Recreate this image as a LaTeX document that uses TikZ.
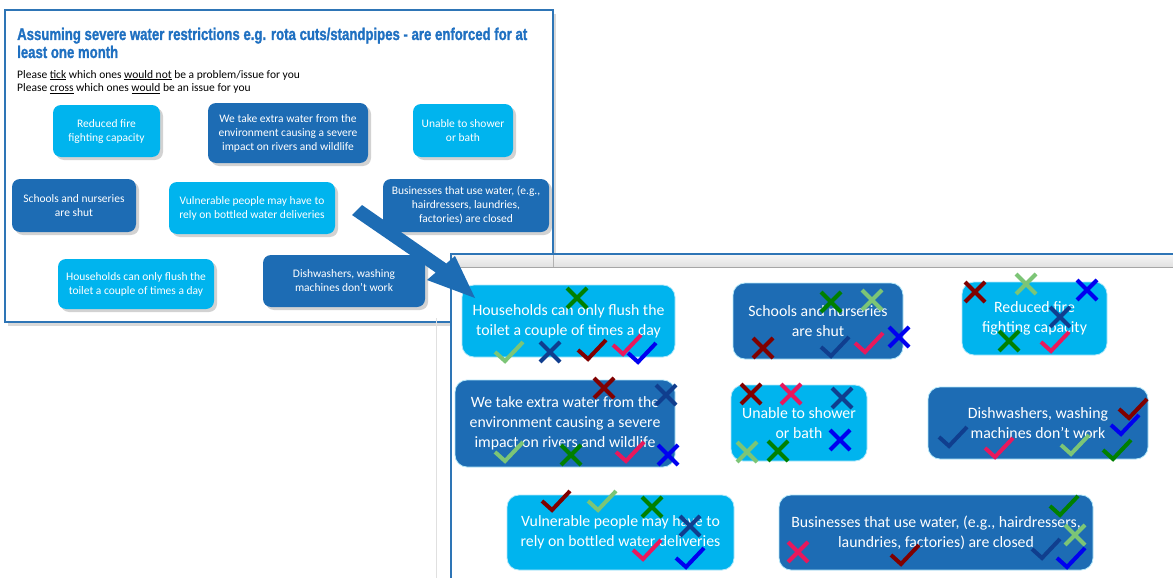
\documentclass[tikz,border=0pt]{standalone}
\usepackage{fontspec}
\setmainfont{Carlito}
\newfontfamily\titlefont[FakeStretch=0.775,FakeBold=1.2]{Liberation Sans}
\usetikzlibrary{shadows}
\definecolor{optcyan}{HTML}{00B4EE}
\definecolor{optblue}{HTML}{1D6CB4}
\definecolor{frameblue}{HTML}{2E75B6}
\definecolor{titleblue}{HTML}{1F70C1}
\definecolor{mkred}{HTML}{800000}
\definecolor{mklime}{HTML}{7CC576}
\definecolor{mkgreen}{HTML}{008000}
\definecolor{mknavy}{HTML}{103E8E}
\definecolor{mkpink}{HTML}{E8185C}
\definecolor{mkblue}{HTML}{0000F0}
\tikzset{
  optsmall/.style={rounded corners=8pt, align=center, text=white, inner sep=0pt, font=\fontsize{11.5}{14}\selectfont, drop shadow={shadow xshift=3pt, shadow yshift=-3pt, opacity=0.35}},
  optbig/.style={rounded corners=12pt, align=center, text=white, inner sep=0pt, font=\fontsize{15.8}{20}\selectfont, draw=white!70!optcyan, line width=0.8pt},
  headline/.style={anchor=base west, inner sep=0pt, text=titleblue, font=\titlefont\bfseries\fontsize{17}{18}\selectfont},
  askline/.style={anchor=base west, inner sep=0pt, font=\fontsize{11.5}{14}\selectfont},
  markline/.style={line width=4pt},
  tickmk/.pic={\draw[markline] (-14,0) -- (-4,9) -- (14,-10);},
  crossmk/.pic={\draw[markline] (-10,-10) -- (10,10) (-10,10) -- (10,-10);}
}

\begin{document}
\begin{tikzpicture}[x=1pt, y=-1pt]
  \useasboundingbox (0,0) rectangle (1173,578);

  % survey slide
  \node[draw=frameblue, line width=1.5pt, fill=white, inner sep=0pt, minimum width=548pt, minimum height=312pt, drop shadow={shadow xshift=3pt, shadow yshift=-4pt, opacity=0.3}] (slide) at (279,166) {};
  \node[headline] (title1) at (17,40) {Assuming severe water restrictions e.g. rota cuts/standpipes - are enforced for at};
  \node[headline] (title2) at (17,58) {least one month};
  \node[askline] (asktick) at (17,78) {Please \underline{tick} which ones \underline{would not} be a problem/issue for you};
  \node[askline] (askcross) at (17,92) {Please \underline{cross} which ones \underline{would} be an issue for you};

  \node[optsmall, fill=optcyan, minimum width=107pt, minimum height=52pt] (lfire) at (106.5,131) {Reduced fire\\fighting capacity};
  \node[optsmall, fill=optblue, minimum width=160pt, minimum height=60pt] (lextra) at (288,133) {We take extra water from the\\environment causing a severe\\impact on rivers and wildlife};
  \node[optsmall, fill=optcyan, minimum width=100pt, minimum height=53pt] (lshower) at (463,130.5) {Unable to shower\\or bath};
  \node[optsmall, fill=optblue, minimum width=124pt, minimum height=53pt] (lschool) at (74,205.5) {Schools and nurseries\\are shut};
  \node[optsmall, fill=optcyan, minimum width=166pt, minimum height=52pt] (lvulner) at (252,208) {Vulnerable people may have to\\rely on bottled water deliveries};
  \node[optsmall, fill=optblue, minimum width=166pt, minimum height=53pt] (lbusin) at (466,205.5) {Businesses that use water, (e.g.,\\hairdressers, laundries,\\factories) are closed};
  \node[optsmall, fill=optcyan, minimum width=156pt, minimum height=50pt] (lflush) at (136,284) {Households can only flush the\\toilet a couple of times a day};
  \node[optsmall, fill=optblue, minimum width=162pt, minimum height=52pt] (ldish) at (344,281) {Dishwashers, washing\\machines don't work};

  % results window
  \draw[black!12] (436,318) -- (436,578);
  \fill[white] (451,254) rectangle (1173,578);
  \shade[top color=black!4, bottom color=black!12] (452,255) rectangle (1173,267);
  \draw[black!30] (553,255) -- (553,267);
  \draw[black!35] (452,267) -- (1173,267);
  \draw[frameblue, line width=2pt] (1173,254) -- (451,254) -- (451,578);

  \node[optbig, fill=optcyan, minimum width=213pt, minimum height=72pt] (rflush) at (568.5,321) {Households can only flush the\\toilet a couple of times a day};
  \node[optbig, fill=optblue, minimum width=170pt, minimum height=76pt] (rschool) at (818,321) {Schools and nurseries\\are shut};
  \node[optbig, fill=optcyan, minimum width=145pt, minimum height=73pt] (rfire) at (1034.5,318.5) {Reduced fire\\fighting capacity};
  \node[optbig, fill=optblue, minimum width=220pt, minimum height=87pt] (rextra) at (565,423.5) {We take extra water from the\\environment causing a severe\\impact on rivers and wildlife};
  \node[optbig, fill=optcyan, minimum width=136pt, minimum height=76pt] (rshower) at (799,423) {Unable to shower\\or bath};
  \node[optbig, fill=optblue, minimum width=220pt, minimum height=72pt] (rdish) at (1038,423) {Dishwashers, washing\\machines don't work};
  \node[optbig, fill=optcyan, minimum width=227pt, minimum height=75pt] (rvulner) at (620.5,532.5) {Vulnerable people may have to\\rely on bottled water deliveries};
  \node[optbig, fill=optblue, minimum width=314pt, minimum height=75pt] (rbusin) at (936,532.5) {Businesses that use water, (e.g., hairdressers,\\laundries, factories) are closed};

  % ticks and crosses
  \pic[mkgreen] at (577,298) {crossmk};
  \pic[mklime] at (509,352) {tickmk};
  \pic[mknavy] at (550,352) {crossmk};
  \pic[mkred] at (592,350) {tickmk};
  \pic[mkpink] at (627,345) {tickmk};
  \pic[mkblue] at (642,353) {tickmk};

  \pic[mkred] at (604,388) {crossmk};
  \pic[mknavy] at (666,395) {crossmk};
  \pic[mklime] at (509,452) {tickmk};
  \pic[mkgreen] at (571,455) {crossmk};
  \pic[mkpink] at (630,452) {tickmk};
  \pic[mkblue] at (668,455) {crossmk};

  \pic[mkgreen] at (831,302) {crossmk};
  \pic[mklime] at (872,300) {crossmk};
  \pic[mkred] at (763,348) {crossmk};
  \pic[mknavy] at (835,347) {tickmk};
  \pic[mkpink] at (869,343) {tickmk};
  \pic[mkblue] at (899,337) {crossmk};

  \pic[mkred] at (975,292) {crossmk};
  \pic[mklime] at (1026,284) {crossmk};
  \pic[mkblue] at (1087,290) {crossmk};
  \pic[mknavy] at (1060,317) {crossmk};
  \pic[mkgreen] at (1009,341) {crossmk};
  \pic[mkpink] at (1055,342) {tickmk};

  \pic[mkred] at (751,394) {crossmk};
  \pic[mkpink] at (791,394) {crossmk};
  \pic[mknavy] at (842,398) {crossmk};
  \pic[mkblue] at (840,440) {crossmk};
  \pic[mklime] at (747,452) {crossmk};
  \pic[mkgreen] at (778,451) {crossmk};

  \pic[mkred] at (1133,409) {tickmk};
  \pic[mkblue] at (1125,425) {tickmk};
  \pic[mknavy] at (953,437) {tickmk};
  \pic[mkpink] at (999,448) {tickmk};
  \pic[mklime] at (1075,445) {tickmk};
  \pic[mkgreen] at (1117,450) {tickmk};

  \pic[mkred] at (556,501) {tickmk};
  \pic[mklime] at (602,501) {tickmk};
  \pic[mkgreen] at (652,507) {crossmk};
  \pic[mknavy] at (690,526) {crossmk};
  \pic[mkpink] at (647,550) {tickmk};
  \pic[mkblue] at (690,558) {tickmk};

  \pic[mkgreen] at (1064,506) {tickmk};
  \pic[mklime] at (1075,535) {crossmk};
  \pic[mkpink] at (798,552) {crossmk};
  \pic[mkred] at (905,555) {tickmk};
  \pic[mknavy] at (1046,549) {tickmk};
  \pic[mkblue] at (1071,558) {tickmk};

  % block arrow from slide to results
  \coordinate (arrowtail) at (357,210);
  \coordinate (arrowtip) at (475,298);
  \fill[optblue] (362,205) -- (446.3,263.5) -- (455,256) -- (arrowtip) -- (427,280) -- (435.7,272.5) -- (352,215) -- cycle;
\end{tikzpicture}
\end{document}
